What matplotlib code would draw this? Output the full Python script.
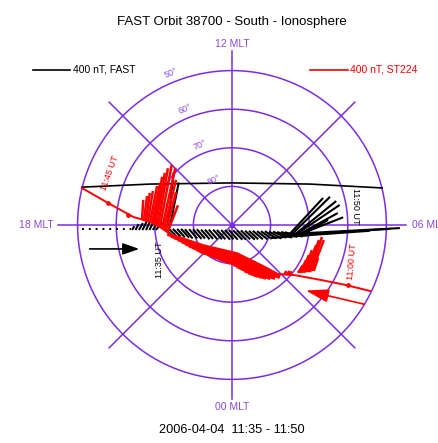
import numpy as np
import matplotlib
matplotlib.use("Agg")
import matplotlib.pyplot as plt
from matplotlib.collections import LineCollection

plt.rcParams['font.family'] = ['Liberation Sans', 'DejaVu Sans']

PURPLE = '#7B2CE6'
PURPLE_TXT = '#8A4AE2'

# ── grid (latitude circles, MLT meridians) ───────────────────────────────────
lat_circles = [80, 70, 60, 50]
mlt_lines = [0, 3, 6, 9, 12, 15, 18, 21]
grid_edge_lat = 45

# ── FAST orbit track (x, y in degrees of colatitude, 12 MLT up) ─────────────
fast_orbit_x = [-38.9, -21.2, 0.0, 20.2, 38.9]
fast_orbit_y = [9.8, 10.6, 10.9, 10.6, 9.6]
fast_dot_x = [-38.9, -26.2]
fast_dot_y = [-1.0, -1.0]

# FAST vectors: base position and components
fast_base_x = [-25.9, -25.0, -24.1, -23.2, -22.3, -21.4, -20.5, -19.7,
               -17.4, -16.3, -15.3, -14.2, -13.2, -12.2, -11.1, -10.1, -9.1,
               -8.0, -7.0, -6.0, -4.9, -3.9, -2.8, -1.8, -0.8, 0.3, 1.3, 2.3,
               3.4, 4.4, 5.4, 6.5, 7.5, 8.5, 9.6, 10.6, 11.7, 12.7, 13.7,
               14.5, 15.3, 16.1, 16.8, 17.6, 18.4, 18.9,
               15.5, 16.6, 17.6, 9.9, -16.6, -16.1]
fast_base_y = [-1.3, -1.3, -1.3, -1.3, -1.3, -1.3, -1.3, -1.3,
               -1.0, -1.0, -1.0, -1.0, -1.0, -1.1, -1.1, -1.1, -1.1,
               -1.2, -1.2, -1.2, -1.2, -1.3, -1.3, -1.3, -1.3, -1.4, -1.4, -1.4,
               -1.5, -1.5, -1.5, -1.6, -1.6, -1.6, -1.7, -1.7, -1.8, -1.8, -1.9,
               -2.8, -2.6, -2.6, -2.3, -2.3, -2.1, -2.1,
               -2.3, -2.6, -2.8, -3.4, -0.3, -0.5]
fast_dx = [0.6, 0.8, 1.0, 1.1, 1.2, 1.3, 1.4, 1.5,
           1.6, 1.8, 2.0, 2.0, 2.1, 2.0, 2.1, 2.2, 2.1,
           2.2, 2.1, 2.2, 2.3, 2.2, 2.3, 2.2, 2.3, 2.4, 2.3, 2.4,
           2.5, 2.4, 2.6, 2.7, 2.8, 3.0, 3.2, 3.5, 3.8, 4.2, 4.6,
           9.1, 10.1, 10.9, 11.1, 9.8, 10.4, 6.0,
           28.0, 24.4, 18.1, 10.4, 1.5, 2.3]
fast_dy = [1.0, 1.5, 1.8, 2.2, 2.4, 2.6, 2.4, 2.0,
           -1.4, -1.8, -2.0, -2.2, -2.3, -2.4, -2.4, -2.5, -2.4,
           -2.5, -2.4, -2.5, -2.5, -2.4, -2.5, -2.4, -2.5, -2.4, -2.4, -2.3,
           -2.3, -2.2, -2.2, -2.1, -2.0, -1.9, -1.8, -1.6, -1.5, -1.3, -1.1,
           9.8, 9.9, 8.8, 7.5, 5.4, 4.1, 3.4,
           1.5, 1.6, 1.3, 0.8, 14.0, 11.5]

# ── ST224 footprint track and vectors ───────────────────────────────────────
st_track_x = [-38.9, -32.1, -25.6, -21.2, -18.7, -16.1, -7.5, 1.3, 8.0, 11.9,
              16.3, 22.8, 29.3, 35.8]
st_track_y = [9.6, 5.7, 2.1, 0.8, -0.5, -2.3, -5.2, -7.3, -10.6, -12.7,
              -13.0, -14.2, -15.5, -17.1]
st_mark_x = [-32.1, -27.0, 30.0]
st_mark_y = [5.7, 2.6, -15.6]

# dense band of vectors along the track (length, fixed tilt)
band_x = [-16.0, -15.0, -14.0, -13.0, -12.0, -11.0, -10.0, -9.0, -8.0, -7.0,
          -6.0, -5.0, -4.0, -3.0, -2.0, -1.0, 0.0, 1.0, 2.0, 3.0, 4.0, 5.0,
          6.0, 7.0, 8.0, 9.0, 10.0, 11.0, 12.0]
band_y = [-2.33, -2.67, -3.01, -3.34, -3.68, -4.02, -4.36, -4.69, -5.03, -5.32,
          -5.56, -5.80, -6.04, -6.27, -6.51, -6.75, -6.99, -7.23, -7.65, -8.14,
          -8.63, -9.12, -9.61, -10.11, -10.60, -11.14, -11.68, -12.22, -12.6]
band_len = [0.7, 0.9, 1.0, 1.2, 1.4, 1.6, 1.8, 1.9, 2.1, 2.3, 2.4, 2.5, 2.7,
            2.8, 3.0, 3.1, 3.2, 3.3, 3.4, 3.5, 3.5, 3.6, 3.6, 3.5, 3.3, 3.0,
            2.5, 1.9, 1.2]
band_tilt_deg = 250

# fans of large vectors
fan_x = [-23.3, -22.8, -22.3, -21.8, -21.2, -20.7, -20.2, -19.7, -19.2, -18.7,
         -18.1, -17.6, -17.1, -16.6,
         17.1, 17.6, 18.1, 18.7, 19.2, 19.7, 20.2, 20.7, 21.2,
         13.5, 14.2, 14.9]
fan_y = [1.3, 1.0, 1.0, 0.8, 0.8, 0.5, 0.3, 0.0, -0.3, -0.5, -0.8, -1.0, -1.3,
         -1.6,
         -12.4, -12.4, -12.4, -12.4, -12.2, -12.2, -12.2, -11.9, -11.9,
         -12.9, -13.0, -13.0]
fan_dx = [0.3, 0.8, 1.0, 1.3, 1.8, 2.1, 2.1, 2.3, 2.6, 3.1, 3.4, 3.1, 2.6, 2.6,
          1.3, 1.6, 1.8, 2.0, 2.6, 2.8, 3.1, 3.1, 1.1,
          0.6, 0.7, 0.6]
fan_dy = [5.2, 6.5, 7.3, 8.0, 9.3, 10.4, 12.2, 13.5, 15.0, 16.1, 15.5, 12.7,
          9.8, 6.7,
          2.0, 3.3, 4.6, 5.9, 7.0, 8.3, 9.1, 8.0, 3.4,
          1.0, 1.1, 1.0]

# arrows showing direction of travel (tail -> tip)
fast_arrow = [(-37.6, -6.2), (-23.3, -6.2)]
st_arrow = [(35.0, -20.7), (18.4, -16.8)]

fig = plt.figure(figsize=(4.39, 4.43), dpi=100)
ax = fig.add_axes([0, 0, 1, 1])
ax.set_xlim(-60.10, 53.63)
ax.set_ylim(-56.48, 58.29)
ax.axis("off")

# grid
th = np.linspace(0, 2 * np.pi, 361)
for lat in lat_circles:
    r = 90 - lat
    ax.plot(r * np.cos(th), r * np.sin(th), color=PURPLE, lw=1.1, zorder=1)
rmax = 90 - grid_edge_lat
for mlt in mlt_lines:
    a = np.deg2rad((mlt - 6) * 15)
    ax.plot([0, rmax * np.cos(a)], [0, rmax * np.sin(a)], color=PURPLE,
            lw=1.1, zorder=1)
ax.plot([0], [0], 'o', color=PURPLE, ms=3, zorder=1)

for lat in lat_circles:
    r = 90 - lat + 2.4
    a = np.deg2rad(112)
    ax.text(r * np.cos(a), r * np.sin(a), f"{lat}°", color=PURPLE_TXT,
            fontsize=6.5, rotation=22, ha="center", va="center")

ax.text(0, 46.9, "12 MLT", color=PURPLE_TXT, fontsize=7.5, ha="center", va="center")
ax.text(0, -47.2, "00 MLT", color=PURPLE_TXT, fontsize=7.5, ha="center", va="center")
ax.text(-46.2, 0, "18 MLT", color=PURPLE_TXT, fontsize=7.5, ha="right", va="center")
ax.text(46.6, 0, "06 MLT", color=PURPLE_TXT, fontsize=7.5, ha="left", va="center")

# FAST
ax.plot(fast_orbit_x, fast_orbit_y, color="black", lw=1.2, zorder=2)
ax.plot(fast_dot_x, fast_dot_y, color="black", lw=1.4, ls=(0, (1, 2.5)), zorder=2)
segs = [[(x, y), (x + dx, y + dy)] for x, y, dx, dy in
        zip(fast_base_x, fast_base_y, fast_dx, fast_dy)]
ax.add_collection(LineCollection(segs, colors="black", linewidths=1.5, zorder=3))

# ST224
ax.plot(st_track_x, st_track_y, color="red", lw=1.4, zorder=4)
ax.plot(st_mark_x, st_mark_y, 'o', color="red", ms=2.4, zorder=4)
t = np.deg2rad(band_tilt_deg)
segs = [[(x, y), (x + l * np.cos(t), y + l * np.sin(t))] for x, y, l in
        zip(band_x, band_y, band_len)]
ax.add_collection(LineCollection(segs, colors="red", linewidths=4.0, zorder=4))
segs = [[(x, y), (x + dx, y + dy)] for x, y, dx, dy in
        zip(fan_x, fan_y, fan_dx, fan_dy)]
ax.add_collection(LineCollection(segs, colors="red", linewidths=1.8, zorder=4))

ax.annotate("", xy=fast_arrow[1], xytext=fast_arrow[0], zorder=5,
            arrowprops=dict(arrowstyle="-|>,head_length=1.0,head_width=0.35",
                            color="black", lw=1.2, mutation_scale=10))
ax.annotate("", xy=st_arrow[1], xytext=st_arrow[0], zorder=5,
            arrowprops=dict(arrowstyle="-|>,head_length=1.4,head_width=0.4",
                            color="red", lw=1.2, mutation_scale=10))

# time labels
ax.text(-31.6, 13.5, "11:45 UT", color="red", fontsize=6.5, rotation=70,
        ha="center", va="center")
ax.text(31.9, 4.9, "11:50 UT", color="black", fontsize=6.5, rotation=-90,
        ha="center", va="center")
ax.text(31.1, -9.6, "11:00 UT", color="red", fontsize=6.5, rotation=85,
        ha="center", va="center")
ax.text(-18.9, -9.1, "11:35 UT", color="black", fontsize=6.5, rotation=90,
        ha="center", va="center")

# titles and legend
fig.text(0.528, 0.950, "FAST Orbit 38700 - South - Ionosphere", fontsize=9.5,
         ha="center", va="center")
fig.text(0.528, 0.029, "2006-04-04  11:35 - 11:50", fontsize=9.2,
         ha="center", va="center")
fig.add_artist(plt.Line2D([33 / 439, 70 / 439], [1 - 70 / 443] * 2,
                          color="black", lw=1.2))
fig.text(73 / 439, 1 - 70 / 443, "400 nT, FAST", fontsize=7.5, ha="left",
         va="center")
fig.add_artist(plt.Line2D([310 / 439, 348 / 439], [1 - 70 / 443] * 2,
                          color="red", lw=1.2))
fig.text(350 / 439, 1 - 70 / 443, "400 nT, ST224", fontsize=7.5, color="red",
         ha="left", va="center")

fig.savefig("out.png", dpi=100)
